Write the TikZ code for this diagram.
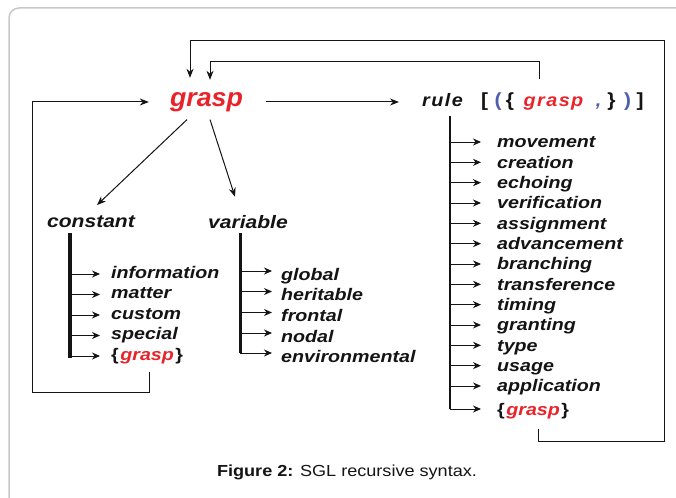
\documentclass[tikz,border=0pt]{standalone}
\usepackage{fontspec}
\setmainfont{Liberation Sans}
\newfontfamily\itemfont[FakeStretch=1.17]{Liberation Sans}
\newfontfamily\rulefont[FakeStretch=1.1,LetterSpace=8]{Liberation Sans}
\newfontfamily\bigfont[FakeStretch=1.03]{Liberation Sans}
\newfontfamily\capfont[FakeStretch=1.13]{Liberation Sans}
\usetikzlibrary{arrows.meta}
\definecolor{gred}{HTML}{E8232A}
\definecolor{gblue}{HTML}{4F5FB0}
\definecolor{frm}{HTML}{C8C8C8}
\definecolor{ink}{HTML}{141414}
\begin{document}
\begin{tikzpicture}[x=1pt,y=1pt,
  itm/.style={inner sep=0pt, anchor=base west, text=ink, font=\itemfont\bfseries\itshape\fontsize{16.8}{18}\selectfont},
  hd/.style={inner sep=0pt, anchor=base, text=ink, font=\itemfont\bfseries\itshape\fontsize{18}{20}\selectfont},
  big/.style={inner sep=0pt, anchor=base, text=gred, font=\bigfont\bfseries\itshape\fontsize{26}{28}\selectfont},
  rl/.style={inner sep=0pt, anchor=base, text=ink, font=\rulefont\bfseries\itshape\fontsize{18}{20}\selectfont},
  brk/.style={inner sep=0pt, anchor=base, text=ink, font=\rulefont\bfseries\fontsize{19}{20}\selectfont},
  capf/.style={inner sep=0pt, anchor=base, text=ink, font=\capfont\fontsize{16}{18}\selectfont},
  sarr/.style={draw=ink, line width=0.9pt, -{Stealth[length=8pt,width=7pt]}},
  marr/.style={draw=ink, line width=1pt, -{Stealth[length=9pt,width=7pt]}},
  frame/.style={draw=frm, line width=1.5pt, rounded corners=10pt}
]
\useasboundingbox (0,0) rectangle (676,-497);
\fill[white] (0,0) rectangle (676,-497);
\draw[frame] (9,-500) |- (680,-8);

% main nodes
\node[big] (G) at (206.5,-107) {grasp};
\node[rl, anchor=base west] (R) at (422,-107) {rule};
\node[brk] (b1) at (484.5,-107) {[};
\node[brk, text=gblue] (b2) at (498,-107) {(};
\node[brk] (b3) at (510,-107) {\{};
\node[rl, text=gred] (bg) at (553.5,-107) {grasp};
\node[rl, text=gblue] (b5) at (598.5,-107) {,};
\node[brk] (b6) at (611.5,-107) {\}};
\node[brk, text=gblue] (b7) at (627.5,-107) {)};
\node[brk] (b8) at (640,-107) {]};

\node[hd] (C) at (91,-227) {constant};
\node[hd] (V) at (248,-228) {variable};

% constant group
\coordinate (cb) at (70,-233);
\node[itm] (c1) at (111,-278) {information};
\node[itm] (c2) at (111,-298.5) {matter};
\node[itm] (c3) at (111,-319) {custom};
\node[itm] (c4) at (111,-339.5) {special};
\node[itm] (cg) at (111,-360) {{\upshape\{}\kern1.5pt\textcolor{gred}{grasp}\kern1.5pt{\upshape\}}};
\draw[ink, line width=4pt] (cb) -- (70,-358);
\foreach \n in {c1,c2,c3,c4,cg}{
  \coordinate (\n a) at ([xshift=-11pt,yshift=4pt]\n.base west);
  \draw[sarr] (\n a -| cb) -- (\n a);
}

% variable group
\coordinate (vb) at (240,-233);
\node[itm] (v1) at (281,-280) {global};
\node[itm] (v2) at (281,-300.5) {heritable};
\node[itm] (v3) at (281,-321.5) {frontal};
\node[itm] (v4) at (281,-342) {nodal};
\node[itm] (v5) at (281,-362) {environmental};
\foreach \n in {v1,v2,v3,v4,v5}{
  \coordinate (\n a) at ([xshift=-9pt,yshift=9pt]\n.base west);
}
\draw[ink, line width=3pt] (vb) -- (v5a -| vb);
\foreach \n in {v1,v2,v3,v4,v5}{
  \draw[sarr] (\n a -| vb) -- (\n a);
}

% rule group
\coordinate (rb) at (450,-116);
\foreach \t [count=\i from 0] in {movement,creation,echoing,verification,assignment,advancement,branching,transference,timing,granting,type,usage,application}{
  \node[itm] (r\i) at (497,{-148-20.33*\i}) {\t};
  \coordinate (r\i a) at ([xshift=-16pt,yshift=6pt]r\i.base west);
}
\node[itm] (rg) at (497,-415) {{\upshape\{}\kern1.5pt\textcolor{gred}{grasp}\kern1.5pt{\upshape\}}};
\coordinate (rga) at ([xshift=-16pt,yshift=6pt]rg.base west);
\draw[ink, line width=1.2pt] (rb) -- (rga -| rb);
\foreach \i in {0,...,12}{
  \draw[sarr] (r\i a -| rb) -- (r\i a);
}
\draw[sarr] (rga -| rb) -- (rga);

% arrows from grasp
\draw[marr] ([xshift=-19.5pt,yshift=-7pt]G.south) -- ([xshift=6pt,yshift=10pt]C.north);
\draw[marr] ([xshift=3.5pt,yshift=-7pt]G.south) -- ([xshift=-13pt,yshift=18pt]V.north);
\coordinate (m) at (0,-102);
\draw[marr, shorten <=23pt, shorten >=23pt] (G.east |- m) -- (R.west |- m);

% loops
\coordinate (l1) at (149,-392);
\coordinate (l2) at (32,-102);
\draw[marr, shorten <=8pt, shorten >=21pt] (l1 |- cg.south) -- (l1) -| (l2) -- (G.west |- l2);

\path (G.north) ++(-16.5pt,15pt) coordinate (Gt1);
\path (G.north) ++(3.5pt,13pt) coordinate (Gt2);
\coordinate (o1) at (538,-441);
\coordinate (top1) at (664,-41);
\draw[marr, shorten <=10pt] (o1 |- rg.south) -- (o1) -| (top1) -| (Gt1);
\coordinate (i1) at (539,-62);
\draw[marr, shorten <=18pt] (i1 |- bg.north) -- (i1) -| (Gt2);

% caption
\node[capf] (cap) at (347,-476) {\textbf{Figure 2:} SGL recursive syntax.};
\end{tikzpicture}
\end{document}
